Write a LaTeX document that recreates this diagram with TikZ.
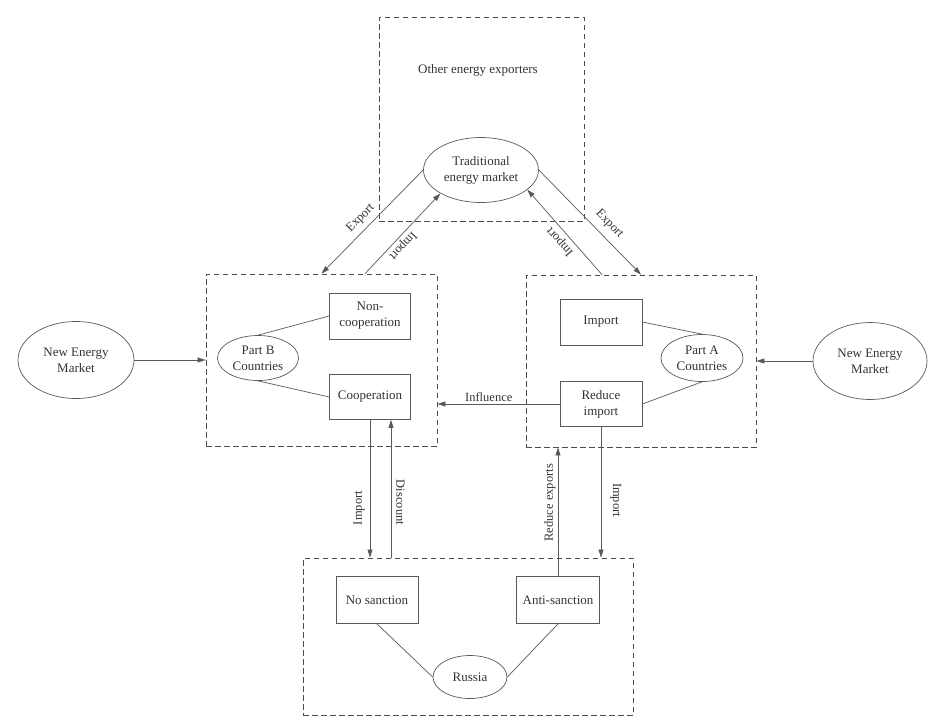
\documentclass[tikz,border=0pt]{standalone}
\usepackage{fontspec}
\setmainfont{Liberation Serif}
\usetikzlibrary{shapes.geometric, arrows.meta, positioning}

\begin{document}
\begin{tikzpicture}[x=1pt, y=-1pt, font=\fontsize{13}{16}\selectfont, text=black!80,
  line/.style={draw=black!65, line width=0.7pt},
  arr/.style={line, -{Triangle[length=8pt,width=5pt]}},
  dashbox/.style={draw=black!70, line width=0.8pt, dash pattern=on 5.5pt off 3.5pt, inner sep=0pt},
  choice/.style={line, rectangle, align=center, inner sep=0pt},
  actor/.style={line, ellipse, align=center, inner sep=0pt},
  lbl/.style={inner sep=2pt, font=\fontsize{12.5}{15}\selectfont}]
  \useasboundingbox (0,0) rectangle (933,724);

  % Kotak putus-putus
  \foreach \n/\x/\y/\w/\h in {top/481.5/119/205/204, boxB/321.5/360/231/172,
                              boxA/641/361/230/172, bot/468/636.5/330/157} {
    \node[dashbox, minimum width=\w pt, minimum height=\h pt] (\n) at (\x,\y) {};
  }
  \node (other) at (478,70) {Other energy exporters};

  % Pasar dan negara
  \node[actor, minimum width=115pt, minimum height=65pt] (trad) at (481,170) {Traditional\\energy market};
  \node[actor, minimum width=116pt, minimum height=77pt] (nemL) at (76,360) {New Energy\\Market};
  \node[actor, minimum width=114pt, minimum height=77pt] (nemR) at (870,361) {New Energy\\Market};
  \node[actor, minimum width=81pt, minimum height=45pt] (partB) at (258,358) {Part B\\Countries};
  \node[actor, minimum width=82pt, minimum height=47pt] (partA) at (702,358) {Part A\\Countries};
  \node[actor, minimum width=74pt, minimum height=43pt] (russia) at (470,677) {Russia};

  % Pilihan
  \node[choice, minimum width=81pt, minimum height=46pt] (noncoop) at (370,316) {Non-\\cooperation};
  \node[choice, minimum width=81pt, minimum height=45pt] (coop) at (370,397) {Cooperation};
  \node[choice, minimum width=82pt, minimum height=46pt] (imp) at (601,322) {Import};
  \node[choice, minimum width=82pt, minimum height=45pt] (redimp) at (601,404) {Reduce\\import};
  \node[choice, minimum width=82pt, minimum height=47pt] (nosanc) at (377,600) {No sanction};
  \node[choice, minimum width=83pt, minimum height=47pt] (anti) at (558,600) {Anti-sanction};

  % Garis
  \foreach \a/\b in {partB.north/noncoop.west, partB.south/coop.west,
                     imp.east/partA.north, redimp.east/partA.south,
                     nosanc.south/russia.west, anti.south/russia.east} {
    \draw[line] (\a) -- (\b);
  }

  % Panah atas
  \draw[arr] (trad.west) -- node[lbl, pos=0.54, rotate=45, above, inner sep=5pt] {Export} (boxB.north);
  \draw[arr] ([xshift=43.5pt]boxB.north) -- node[lbl, pos=0.42, rotate=-133, above, inner sep=2.5pt] {Import} (trad.-150);
  \draw[arr] ([xshift=-39pt]boxA.north) -- node[lbl, pos=0.46, rotate=131, above, inner sep=4pt] {Import} (trad.-23);
  \draw[arr] (trad.east) -- node[lbl, pos=0.6, rotate=-46, above, inner sep=7pt] {Export} (boxA.north);

  % Panah samping
  \draw[arr] (nemL.east) -- (boxB.west);
  \draw[arr] (nemR.west) -- (boxA.east);
  \draw[arr] (redimp.west) -- node[lbl, pos=0.58, above] {Influence} (redimp.west -| boxB.east);

  % Panah bawah
  \draw[arr] (coop.south) -- node[lbl, pos=0.64, rotate=90, above, inner sep=5pt] {Import} (coop.south |- bot.north);
  \draw[arr] ([xshift=21pt]coop.south |- bot.north) -- node[lbl, pos=0.4, rotate=-90, above, inner sep=5pt] {Discount} ([xshift=21pt]coop.south);
  \draw[arr] (anti.north) -- node[lbl, pos=0.57, rotate=90, above, inner sep=2pt] {Reduce exports} (anti.north |- boxA.south);
  \draw[arr] (redimp.south) -- node[lbl, pos=0.56, rotate=-90, above, inner sep=9pt] {Import} (redimp.south |- bot.north);
\end{tikzpicture}
\end{document}
